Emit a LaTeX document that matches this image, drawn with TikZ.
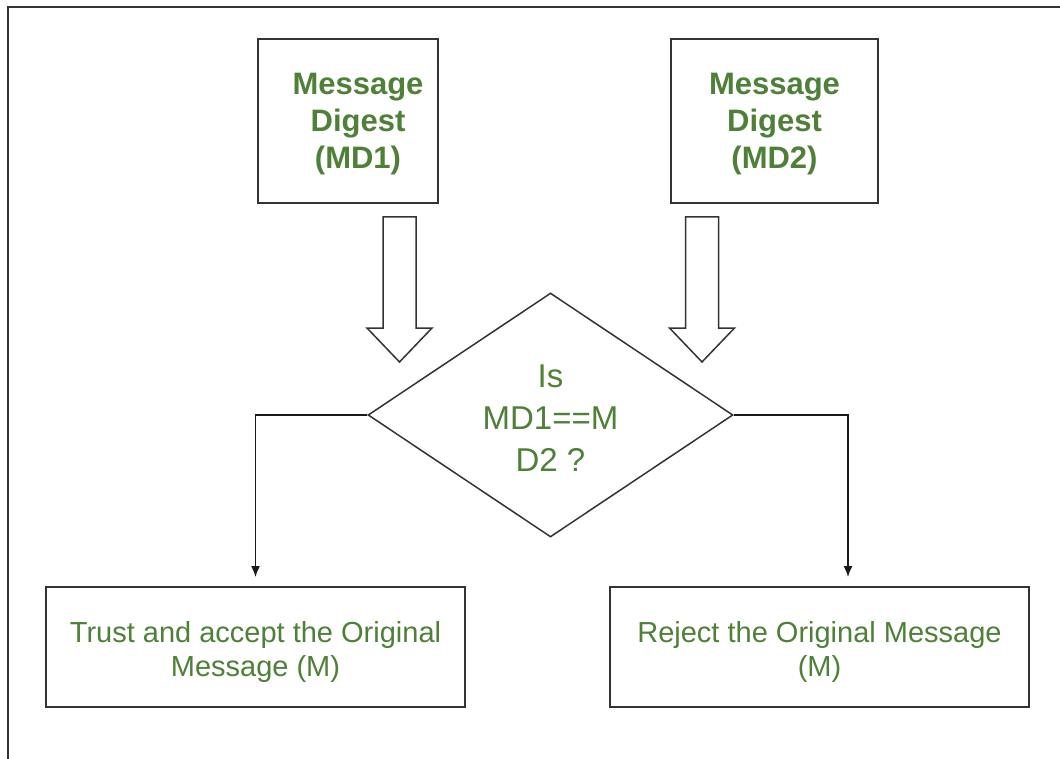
\documentclass[tikz,border=0pt]{standalone}
\usepackage{fontspec}
\setmainfont{Liberation Sans}
\usetikzlibrary{shapes.geometric,arrows.meta}
\definecolor{txtgreen}{RGB}{78,128,56}
\definecolor{edge}{RGB}{51,51,51}
\begin{document}
\begin{tikzpicture}[x=1pt,y=-1pt,
  digestbox/.style={draw=edge,line width=2pt,inner sep=0pt,minimum width=#1,minimum height=164pt},
  digesttext/.style={align=center,text=txtgreen,inner sep=0pt,yshift=-3pt,
    font=\bfseries\fontsize{31}{37}\selectfont},
  outcome/.style={draw=edge,line width=2pt,inner sep=0pt,minimum width=419pt,minimum height=120pt},
  outcometext/.style={align=center,text=txtgreen,inner sep=0pt,yshift=-5pt,
    font=\fontsize{29}{34}\selectfont},
  decision/.style={draw=edge,line width=1.5pt,shape=diamond,inner sep=0pt,
    minimum width=365pt,minimum height=244pt},
  decisiontext/.style={align=center,text=txtgreen,inner sep=0pt,yshift=-3pt,
    font=\fontsize{33}{42}\selectfont},
  conn/.style={draw=black!90,line width=1.5pt,-{Latex[length=11pt,width=9pt]},shorten >=9pt},
  blockarrow/.pic={
    \draw[edge,line width=1.5pt,line join=miter]
      (-16.5,0) -- (16.5,0) -- (16.5,111) -- (32.5,111) -- (0,145)
      -- (-32.5,111) -- (-16.5,111) -- cycle;
  }]
\useasboundingbox (0,0) rectangle (1060,759);
\fill[white] (0,0) rectangle (1060,759);
% outer frame
\draw[edge,line width=2pt] (1062,7) -- (8,7) -- (8,761);

% two message digests
\node[digestbox=180pt,
  label={[digesttext,xshift=10pt]center:Message\\Digest\\(MD1)}] (md1) at (348,121) {};
\node[digestbox=207pt,
  label={[digesttext]center:Message\\Digest\\(MD2)}] (md2) at (774.5,121) {};

% comparison
\node[decision,
  label={[decisiontext]center:Is\\MD1==M\\D2 ?}] (dec) at (550.5,415) {};

% outcomes
\node[outcome,
  label={[outcometext]center:Trust and accept the Original\\Message (M)}] (trust) at (255.5,647) {};
\node[outcome,
  label={[outcometext]center:Reject the Original Message\\(M)}] (reject) at (819.5,647) {};

% hollow block arrows feeding the comparison
\pic at (399.5,217) {blockarrow};
\pic at (702,217) {blockarrow};

% decision branches
\coordinate (rjin) at ([xshift=28.5pt]reject.north);
\draw[conn] (dec.west) -| (trust.north);
\draw[conn] (dec.east) -| (rjin);
\end{tikzpicture}
\end{document}
